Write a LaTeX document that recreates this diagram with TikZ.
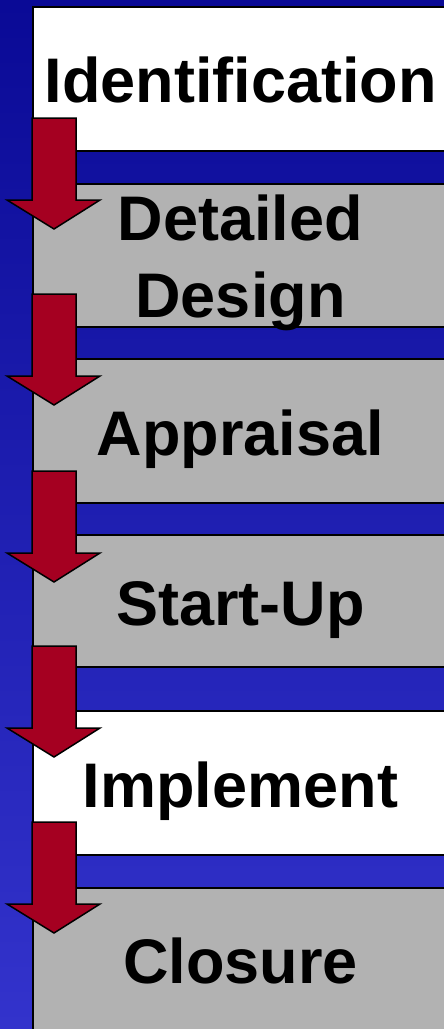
\documentclass[tikz,border=0pt]{standalone}
\usepackage{fontspec}
\setmainfont{Liberation Sans}
\definecolor{bgtop}{HTML}{0A0A96}
\definecolor{bgbot}{HTML}{3333CC}
\definecolor{stagegray}{HTML}{B2B2B2}
\definecolor{arrowred}{HTML}{A50021}
\begin{document}
\begin{tikzpicture}[x=1pt,y=-1pt,
  stagebox/.style={draw=black, line width=2pt, rectangle, inner sep=0pt,
    anchor=north west, minimum width=430pt},
  lbl/.style={font=\fontsize{63}{75}\selectfont\bfseries, anchor=base, inner sep=0pt},
  downarrow/.style={fill=arrowred, draw=black, line width=1.5pt, line join=miter}]
\useasboundingbox (0,0) rectangle (444,1029);
\shade[top color=bgtop, bottom color=bgbot] (0,0) rectangle (444,1029);
% stage boxes
\node[stagebox, fill=white,     minimum height=144pt] (b1) at (32,6) {};
\node[stagebox, fill=stagegray, minimum height=143pt] (b2) at (32,183) {};
\node[stagebox, fill=stagegray, minimum height=144pt] (b3) at (32,358) {};
\node[stagebox, fill=stagegray, minimum height=132pt] (b4) at (32,534) {};
\node[stagebox, fill=white,     minimum height=144pt] (b5) at (32,710) {};
\node[stagebox, fill=stagegray, minimum height=150pt] (b6) at (32,887) {};
% labels
\node[lbl] (t1) at (240.5,102) {Identification};
\node[lbl] (t2a) at (240.5,240) {Detailed};
\node[lbl] (t2b) at (240.5,317) {Design};
\node[lbl] (t3) at (240.5,455) {Appraisal};
\node[lbl] (t4) at (240.5,625) {Start-Up};
\node[lbl] (t5) at (240.5,807) {Implement};
\node[lbl] (t6) at (240.5,983) {Closure};
% arrows
\foreach \t/\n in {118/1,294/2,471/3,646/4,822/5}{
  \coordinate (a\n) at (32,\t);
  \draw[downarrow] (a\n) -- ++(44,0) -- ++(0,82) -- ++(24,0) -- ++(-46,29)
    -- ++(-47,-29) -- ++(25,0) -- cycle;
}
\end{tikzpicture}
\end{document}
